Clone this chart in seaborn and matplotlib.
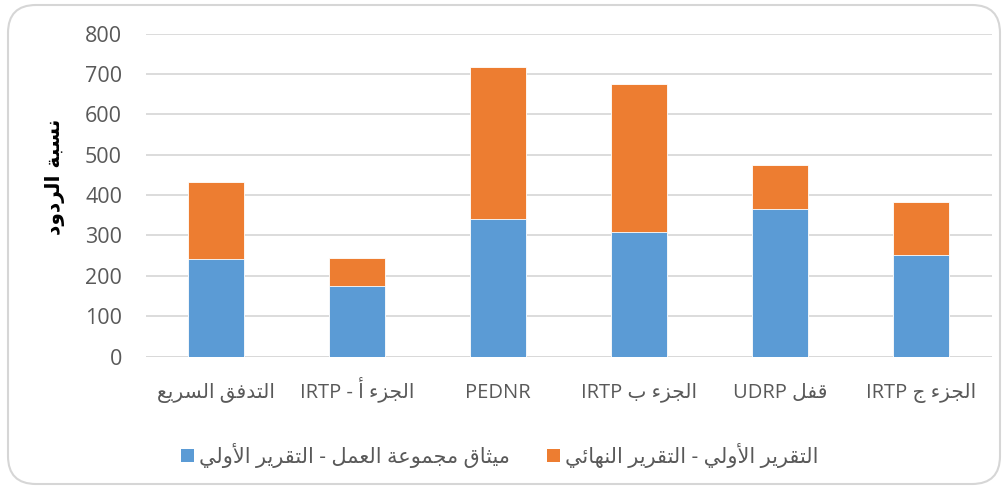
import matplotlib
matplotlib.use("Agg")
import matplotlib.pyplot as plt
from matplotlib.patches import FancyBboxPatch, Patch
from matplotlib.transforms import IdentityTransform
import seaborn as sns
import pandas as pd

# ---------------- data ----------------
categories = ["التدفق السريع", "الجزء أ - IRTP", "PEDNR", "الجزء ب IRTP", "قفل UDRP", "الجزء ج IRTP"]
series_blue = [241, 175, 341, 309, 365, 251]    # ميثاق مجموعة العمل - التقرير الأولي
series_orange = [191, 70, 377, 365, 110, 131]   # التقرير الأولي - التقرير النهائي
series_names = ["ميثاق مجموعة العمل - التقرير الأولي", "التقرير الأولي - التقرير النهائي"]
y_label = "نسبة الردود"
y_ticks = [0, 100, 200, 300, 400, 500, 600, 700, 800]

# ------------- Arabic shaping helper (no bidi lib available) -------------
FORMS = {
    'ء': (0xFE80, None, None, None),
    'آ': (0xFE81, 0xFE82, None, None),
    'أ': (0xFE83, 0xFE84, None, None),
    'ؤ': (0xFE85, 0xFE86, None, None),
    'إ': (0xFE87, 0xFE88, None, None),
    'ئ': (0xFE89, 0xFE8A, 0xFE8B, 0xFE8C),
    'ا': (0xFE8D, 0xFE8E, None, None),
    'ب': (0xFE8F, 0xFE90, 0xFE91, 0xFE92),
    'ة': (0xFE93, 0xFE94, None, None),
    'ت': (0xFE95, 0xFE96, 0xFE97, 0xFE98),
    'ث': (0xFE99, 0xFE9A, 0xFE9B, 0xFE9C),
    'ج': (0xFE9D, 0xFE9E, 0xFE9F, 0xFEA0),
    'ح': (0xFEA1, 0xFEA2, 0xFEA3, 0xFEA4),
    'خ': (0xFEA5, 0xFEA6, 0xFEA7, 0xFEA8),
    'د': (0xFEA9, 0xFEAA, None, None),
    'ذ': (0xFEAB, 0xFEAC, None, None),
    'ر': (0xFEAD, 0xFEAE, None, None),
    'ز': (0xFEAF, 0xFEB0, None, None),
    'س': (0xFEB1, 0xFEB2, 0xFEB3, 0xFEB4),
    'ش': (0xFEB5, 0xFEB6, 0xFEB7, 0xFEB8),
    'ص': (0xFEB9, 0xFEBA, 0xFEBB, 0xFEBC),
    'ض': (0xFEBD, 0xFEBE, 0xFEBF, 0xFEC0),
    'ط': (0xFEC1, 0xFEC2, 0xFEC3, 0xFEC4),
    'ظ': (0xFEC5, 0xFEC6, 0xFEC7, 0xFEC8),
    'ع': (0xFEC9, 0xFECA, 0xFECB, 0xFECC),
    'غ': (0xFECD, 0xFECE, 0xFECF, 0xFED0),
    'ف': (0xFED1, 0xFED2, 0xFED3, 0xFED4),
    'ق': (0xFED5, 0xFED6, 0xFED7, 0xFED8),
    'ك': (0xFED9, 0xFEDA, 0xFEDB, 0xFEDC),
    'ل': (0xFEDD, 0xFEDE, 0xFEDF, 0xFEE0),
    'م': (0xFEE1, 0xFEE2, 0xFEE3, 0xFEE4),
    'ن': (0xFEE5, 0xFEE6, 0xFEE7, 0xFEE8),
    'ه': (0xFEE9, 0xFEEA, 0xFEEB, 0xFEEC),
    'و': (0xFEED, 0xFEEE, None, None),
    'ى': (0xFEEF, 0xFEF0, None, None),
    'ي': (0xFEF1, 0xFEF2, 0xFEF3, 0xFEF4),
}
LAM_ALEF = {'آ': (0xFEF5, 0xFEF6), 'أ': (0xFEF7, 0xFEF8), 'إ': (0xFEF9, 0xFEFA), 'ا': (0xFEFB, 0xFEFC)}
LIG = 'LIG'


def is_dual(c):
    return c in FORMS and FORMS[c][2] is not None


def shape(word):
    units = []
    i = 0
    while i < len(word):
        if word[i] == 'ل' and i + 1 < len(word) and word[i + 1] in LAM_ALEF:
            units.append((LIG, word[i + 1]))
            i += 2
        else:
            units.append((word[i], None))
            i += 1
    out = []
    for k, (c, extra) in enumerate(units):
        prev = units[k - 1][0] if k > 0 else None
        nxt = units[k + 1][0] if k + 1 < len(units) else None
        joins_prev = prev is not None and is_dual(prev)
        if c == LIG:
            iso, fin = LAM_ALEF[extra]
            out.append(chr(fin if joins_prev else iso))
            continue
        if c not in FORMS:
            out.append(c)
            continue
        iso, fin, ini, med = FORMS[c]
        joins_next = is_dual(c) and nxt is not None and (nxt in FORMS or nxt == LIG)
        if joins_prev and joins_next:
            out.append(chr(med))
        elif joins_prev:
            out.append(chr(fin))
        elif joins_next:
            out.append(chr(ini))
        else:
            out.append(chr(iso))
    return ''.join(out)


def is_ltr(c):
    return c.isascii() and c.isalnum()


def visual(s):
    runs = []
    for c in s:
        t = is_ltr(c)
        if runs and runs[-1][0] == t:
            runs[-1][1] += c
        else:
            runs.append([t, c])
    parts = []
    for t, txt in reversed(runs):
        if t:
            parts.append(txt)
        else:
            parts.append(shape(txt)[::-1])
    return ''.join(parts)


# ---------------- plot ----------------
sns.set_theme(style="white")
plt.rcParams['font.family'] = ['Open Sans', 'DejaVu Sans']

BLUE = "#5B9BD5"
ORANGE = "#ED7D31"
GRID = "#D9D9D9"
TXT = "#595959"

labels_vis = [visual(c) for c in categories]
df = pd.DataFrame({
    "cat": labels_vis,
    "blue": series_blue,
    "total": [b + o for b, o in zip(series_blue, series_orange)],
})

fig = plt.figure(figsize=(10.06, 4.87), dpi=100)
fig.patch.set_facecolor("white")

border = FancyBboxPatch((8, 3), 992, 479,
                        boxstyle="round,pad=0,rounding_size=28",
                        transform=IdentityTransform(), facecolor="none",
                        edgecolor="#D6D6D6", linewidth=1.5, zorder=-1)
fig.patches.append(border)

ax = fig.add_axes([0.1448, 0.2676, 0.8410, 0.6636])
ax.set_facecolor("none")

sns.barplot(data=df, x="cat", y="total", color=ORANGE, width=0.4, ax=ax,
            saturation=1, edgecolor="white", linewidth=0.6, zorder=3)
sns.barplot(data=df, x="cat", y="blue", color=BLUE, width=0.4, ax=ax,
            saturation=1, edgecolor="white", linewidth=0.6, zorder=4)

ax.set_ylim(0, 800)
ax.set_xlim(-0.5, len(categories) - 0.5)
ax.set_yticks(y_ticks)
ax.set_yticklabels([str(v) for v in y_ticks])
ax.yaxis.grid(True, color=GRID, linewidth=1.3, zorder=0)
ax.set_axisbelow(True)
for sp in ax.spines.values():
    sp.set_visible(False)
ax.axhline(0, color=GRID, linewidth=1.3, zorder=2)
ax.tick_params(axis='y', length=0, pad=17, labelsize=15.5, labelcolor=TXT)
ax.tick_params(axis='x', length=0, pad=29.5, labelsize=14.5, labelcolor=TXT)
for t in ax.get_xticklabels():
    t.set_va('baseline')
ax.set_xlabel("")
ax.set_ylabel("")

fig.text(55 / 1006, 1 - 177 / 487, visual(y_label), rotation=90, ha="center", va="center",
         fontsize=14.5, fontweight="bold", color="black", family=['DejaVu Sans'])

handles = [Patch(facecolor=BLUE, edgecolor="none"), Patch(facecolor=ORANGE, edgecolor="none")]
fig.legend(handles, [visual(n) for n in series_names], loc="center",
           bbox_to_anchor=(0.497, 1 - 455 / 487), ncol=2, frameon=False,
           fontsize=15, labelcolor=TXT, handlelength=0.6, handleheight=0.6,
           handletextpad=0.25, columnspacing=1.8)

fig.savefig("out.png", dpi=100, facecolor="white")
